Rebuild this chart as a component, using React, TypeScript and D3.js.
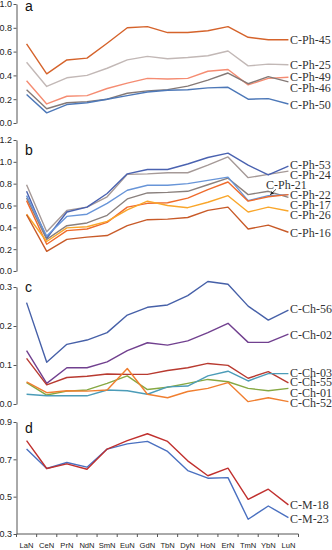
import React, { useEffect, useRef } from "react";
import * as d3 from "d3";

const CATEGORIES = ["LaN", "CeN", "PrN", "NdN", "SmN", "EuN", "GdN", "TbN", "DyN", "HoN", "ErN", "TmN", "YbN", "LuN"];

// panel a
const PH45 = [0.665, 0.413, 0.53, 0.545, 0.67, 0.8, 0.81, 0.76, 0.76, 0.775, 0.81, 0.72, 0.7, 0.7];
const PH25 = [0.51, 0.307, 0.38, 0.4, 0.46, 0.53, 0.56, 0.54, 0.55, 0.565, 0.605, 0.48, 0.495, 0.49];
const PH49 = [0.355, 0.16, 0.225, 0.23, 0.29, 0.335, 0.375, 0.37, 0.375, 0.435, 0.45, 0.32, 0.375, 0.385];
const PH46 = [0.28, 0.12, 0.17, 0.18, 0.2, 0.25, 0.27, 0.28, 0.31, 0.36, 0.42, 0.33, 0.39, 0.345];
const PH50 = [0.24, 0.085, 0.155, 0.17, 0.2, 0.23, 0.26, 0.275, 0.28, 0.295, 0.3, 0.2, 0.205, 0.16];

// panel b
const PH53 = [0.73, 0.3, 0.54, 0.585, 0.71, 0.89, 0.93, 0.93, 0.98, 1.04, 1.08, 0.97, 0.88, 0.96];
const PH24 = [0.79, 0.36, 0.555, 0.585, 0.68, 0.885, 0.89, 0.9, 0.9, 0.97, 1.045, 0.855, 0.885, 0.915];
const PH21 = [0.69, 0.32, 0.5, 0.52, 0.62, 0.74, 0.785, 0.785, 0.8, 0.83, 0.86, 0.645, 0.69, 0.7];
const PH22 = [0.645, 0.245, 0.37, 0.385, 0.445, 0.585, 0.62, 0.625, 0.667, 0.745, 0.815, 0.64, 0.68, 0.7];
const PH17 = [0.67, 0.29, 0.415, 0.44, 0.51, 0.66, 0.715, 0.72, 0.73, 0.79, 0.85, 0.7, 0.73, 0.675];
const PH26 = [0.52, 0.27, 0.395, 0.405, 0.455, 0.56, 0.64, 0.6, 0.58, 0.63, 0.69, 0.54, 0.585, 0.55];
const PH16 = [0.515, 0.18, 0.29, 0.31, 0.325, 0.415, 0.47, 0.475, 0.49, 0.555, 0.585, 0.385, 0.42, 0.355];

// panel c
const CH56 = [0.26, 0.107, 0.153, 0.164, 0.183, 0.228, 0.248, 0.254, 0.278, 0.314, 0.307, 0.251, 0.215, 0.241];
const CH02 = [0.137, 0.053, 0.093, 0.093, 0.108, 0.137, 0.157, 0.151, 0.162, 0.183, 0.207, 0.158, 0.158, 0.179];
const CH03 = [0.025, 0.021, 0.021, 0.021, 0.036, 0.034, 0.025, 0.044, 0.046, 0.072, 0.084, 0.059, 0.078, 0.078];
const CH55 = [0.117, 0.049, 0.068, 0.071, 0.077, 0.076, 0.076, 0.086, 0.093, 0.104, 0.099, 0.066, 0.083, 0.054];
const CH01 = [0.055, 0.023, 0.033, 0.036, 0.053, 0.072, 0.037, 0.043, 0.053, 0.063, 0.057, 0.04, 0.034, 0.04];
const CH52 = [0.057, 0.029, 0.034, 0.033, 0.036, 0.091, 0.025, 0.016, 0.032, 0.04, 0.055, 0.006, 0.016, 0.006];

// panel d
const M18 = [0.8, 0.651, 0.676, 0.647, 0.755, 0.8, 0.837, 0.796, 0.692, 0.612, 0.653, 0.486, 0.54, 0.456];
const M23 = [0.755, 0.651, 0.683, 0.658, 0.755, 0.783, 0.796, 0.742, 0.64, 0.599, 0.602, 0.379, 0.45, 0.388];

// where the sample names sit (data units)
const LABEL_Y_A = [0.7, 0.49, 0.385, 0.295, 0.154];
const LABEL_Y_B = [0.97, 0.877, 0.794, 0.702, 0.609, 0.517, 0.354];
const LABEL_Y_C = [0.243, 0.177, 0.08, 0.056, 0.03, 0.003];
const LABEL_Y_D = [0.456, 0.384];

type Series = { name: string; values: number[]; color: string; labelY: number; labelX?: number };

const panels = [
  {
    letter: "a", domain: [0, 1], range: [123, 4], ticks: [0, 0.2, 0.4, 0.6, 0.8, 1.0], letterY: 11,
    series: [
      { name: "C-Ph-25", values: PH25, color: "#c2b8b6", labelY: LABEL_Y_A[1] },
      { name: "C-Ph-49", values: PH49, color: "#f58c72", labelY: LABEL_Y_A[2] },
      { name: "C-Ph-46", values: PH46, color: "#847976", labelY: LABEL_Y_A[3] },
      { name: "C-Ph-50", values: PH50, color: "#4d78b8", labelY: LABEL_Y_A[4] },
      { name: "C-Ph-45", values: PH45, color: "#d5632b", labelY: LABEL_Y_A[0] },
    ] as Series[],
  },
  {
    letter: "b", domain: [0, 1.2], range: [271, 140], ticks: [0, 0.2, 0.4, 0.6, 0.8, 1.0, 1.2], letterY: 155,
    series: [
      { name: "C-Ph-24", values: PH24, color: "#a59997", labelY: LABEL_Y_B[1] },
      { name: "C-Ph-53", values: PH53, color: "#4a62b0", labelY: LABEL_Y_B[0] },
      { name: "C-Ph-17", values: PH17, color: "#8a807d", labelY: LABEL_Y_B[4] },
      { name: "C-Ph-21", values: PH21, color: "#6895d8", labelY: LABEL_Y_B[2], labelX: 266 },
      { name: "C-Ph-22", values: PH22, color: "#ef6b2c", labelY: LABEL_Y_B[3] },
      { name: "C-Ph-26", values: PH26, color: "#f9a62a", labelY: LABEL_Y_B[5] },
      { name: "C-Ph-16", values: PH16, color: "#c85a28", labelY: LABEL_Y_B[6] },
    ] as Series[],
  },
  {
    letter: "c", domain: [0, 0.3], range: [404, 287], ticks: [0, 0.1, 0.2, 0.3], letterY: 292,
    series: [
      { name: "C-Ch-56", values: CH56, color: "#4660a8", labelY: LABEL_Y_C[0] },
      { name: "C-Ch-02", values: CH02, color: "#71408f", labelY: LABEL_Y_C[1] },
      { name: "C-Ch-55", values: CH55, color: "#b83a30", labelY: LABEL_Y_C[3] },
      { name: "C-Ch-01", values: CH01, color: "#86a842", labelY: LABEL_Y_C[4] },
      { name: "C-Ch-03", values: CH03, color: "#4c9cb8", labelY: LABEL_Y_C[2] },
      { name: "C-Ch-52", values: CH52, color: "#f07f30", labelY: LABEL_Y_C[5] },
    ] as Series[],
  },
  {
    letter: "d", domain: [0.3, 0.9], range: [534, 422], ticks: [0.3, 0.5, 0.7, 0.9], letterY: 433,
    series: [
      { name: "C-M-23", values: M23, color: "#4a70c0", labelY: LABEL_Y_D[1] },
      { name: "C-M-18", values: M18, color: "#c0302e", labelY: LABEL_Y_D[0] },
    ] as Series[],
  },
];

function App() {
  const svgRef = useRef<SVGSVGElement>(null);

  useEffect(() => {
    if (!svgRef.current) return;
    const svg = d3.select(svgRef.current);
    svg.selectAll("*").remove();

    const axisX = 16.5;
    const x = d3.scaleBand<string>().domain(CATEGORIES).range([axisX, 298.5]).padding(0);
    const cx = (i: number) => (x(CATEGORIES[i]) as number) + x.bandwidth() / 2;

    svg
      .append("defs")
      .append("marker")
      .attr("id", "arr")
      .attr("viewBox", "0 0 10 10")
      .attr("refX", 9)
      .attr("refY", 5)
      .attr("markerWidth", 5)
      .attr("markerHeight", 5)
      .attr("orient", "auto")
      .append("path")
      .attr("d", "M0,1L10,5L0,9Z")
      .attr("fill", "#222");

    panels.forEach((p, pi) => {
      const y = d3.scaleLinear().domain(p.domain).range(p.range);
      const g = svg.append("g");

      const ax = g
        .append("g")
        .attr("transform", `translate(${axisX},0)`)
        .call(
          d3.axisLeft(y).tickValues(p.ticks).tickFormat(d3.format(".1f")).tickSize(3).tickSizeOuter(0).tickPadding(1.5)
        );
      ax.select(".domain").attr("stroke", "#555");
      ax.selectAll(".tick line").attr("stroke", "#555");
      ax.selectAll("text").attr("font-family", "Liberation Sans, Arial, sans-serif").attr("font-size", 9).attr("fill", "#222");

      g.append("text")
        .attr("x", 25)
        .attr("y", p.letterY)
        .attr("font-family", "Liberation Sans, Arial, sans-serif")
        .attr("font-size", 14)
        .attr("fill", "#111")
        .text(p.letter);

      const line = d3
        .line<number>()
        .x((_, i) => cx(i))
        .y((d) => y(d));

      p.series.forEach((s) => {
        g.append("path")
          .attr("d", line(s.values))
          .attr("fill", "none")
          .attr("stroke", s.color)
          .attr("stroke-width", 1.4)
          .attr("stroke-linejoin", "round");
      });

      p.series.forEach((s) => {
        g.append("text")
          .attr("x", s.labelX ?? 290)
          .attr("y", y(s.labelY))
          .attr("dy", "0.35em")
          .attr("font-family", "Liberation Serif, Times New Roman, serif")
          .attr("font-size", 12)
          .attr("fill", "#333")
          .text(s.name);
        if (s.labelX) {
          const last = s.values.length - 2;
          g.append("line")
            .attr("x1", s.labelX + 10)
            .attr("y1", y(s.labelY) + 5)
            .attr("x2", cx(last) + 2)
            .attr("y2", y(s.values[last]) - 1)
            .attr("stroke", "#222")
            .attr("stroke-width", 0.8)
            .attr("marker-end", "url(#arr)");
        }
      });

      if (pi === panels.length - 1) {
        const base = p.range[0];
        const xa = g.append("g");
        xa.append("line")
          .attr("x1", axisX)
          .attr("x2", x.range()[1])
          .attr("y1", base)
          .attr("y2", base)
          .attr("stroke", "#555");
        d3.range(CATEGORIES.length + 1).forEach((i) => {
          const tx = axisX + i * x.step();
          xa.append("line")
            .attr("x1", tx)
            .attr("x2", tx)
            .attr("y1", base)
            .attr("y2", base + 3)
            .attr("stroke", "#555");
        });
        CATEGORIES.forEach((c, i) => {
          xa.append("text")
            .attr("x", cx(i))
            .attr("y", base + 14)
            .attr("text-anchor", "middle")
            .attr("font-family", "Liberation Sans, Arial, sans-serif")
            .attr("font-size", 7.6)
            .attr("fill", "#222")
            .text(c);
        });
      }
    });
  }, []);

  return (
    <div style={{ position: "absolute", left: 0, top: 0, width: 332, height: 550, background: "white" }}>
      <svg ref={svgRef} width={332} height={550} style={{ display: "block" }} />
    </div>
  );
}

export default App;
